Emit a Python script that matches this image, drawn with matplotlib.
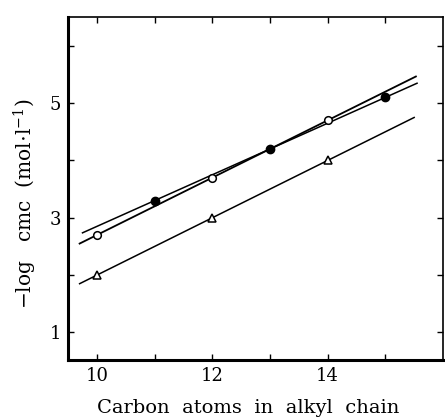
import matplotlib
matplotlib.use("Agg")
import matplotlib.pyplot as plt
import numpy as np

# ---- data ----
open_x = [10, 12, 14]
open_y = [2.7, 3.7, 4.7]
filled_x = [11, 13, 15]
filled_y = [3.3, 4.2, 5.1]
tri_x = [10, 12, 14]
tri_y = [2.0, 3.0, 4.0]
# extent of fitted lines (carbon number)
open_span = [9.7, 15.53]
filled_span = [9.75, 15.55]
tri_span = [9.7, 15.5]

xticks = [10, 11, 12, 13, 14, 15]
xticklabels = ["10", "", "12", "", "14", ""]
yticks = [1, 2, 3, 4, 5, 6]
yticklabels = ["1", "", "3", "", "5", ""]

plt.rcParams['font.family'] = ['DejaVu Serif']
plt.rcParams['mathtext.fontset'] = 'dejavuserif'

fig = plt.figure(figsize=(4.45, 4.19), dpi=100)
ax = fig.add_axes([0.153, 0.141, 0.8425, 0.818])

def fitline(xs, ys, span, lw):
    k, b = np.polyfit(xs, ys, 1)
    xx = np.array(span)
    ax.plot(xx, k * xx + b, color='black', lw=lw, zorder=2)

fitline(open_x, open_y, open_span, 1.3)
fitline(filled_x, filled_y, filled_span, 1.1)
fitline(tri_x, tri_y, tri_span, 1.1)

ax.plot(open_x, open_y, 'o', ms=5.5, mfc='white', mec='black', mew=1.1, zorder=3)
ax.plot(filled_x, filled_y, 'o', ms=6, mfc='black', mec='black', zorder=3)
ax.plot(tri_x, tri_y, '^', ms=6, mfc='white', mec='black', mew=1.1, zorder=3)

ax.set_xlim(9.5, 16.0)
ax.set_ylim(0.52, 6.5)
ax.set_xticks(xticks)
ax.set_xticklabels(xticklabels)
ax.set_yticks(yticks)
ax.set_yticklabels(yticklabels)
ax.tick_params(direction='in', length=4, width=1.0, top=True, right=True,
               labelsize=13, pad=5)

for s in ['left', 'bottom']:
    ax.spines[s].set_linewidth(2.2)
for s in ['top', 'right']:
    ax.spines[s].set_linewidth(1.2)

ax.set_xlabel("Carbon  atoms  in  alkyl  chain", fontsize=14)
ax.xaxis.set_label_coords(0.48, -0.115, transform=ax.transAxes)
ax.xaxis.label.set_va('top')
ax.set_ylabel("$-$log   cmc  (mol$\\cdot$l$^{-1}$)", fontsize=14.5)
ax.yaxis.set_label_coords(-0.077, 0.455)

fig.savefig("out.png", dpi=100)
